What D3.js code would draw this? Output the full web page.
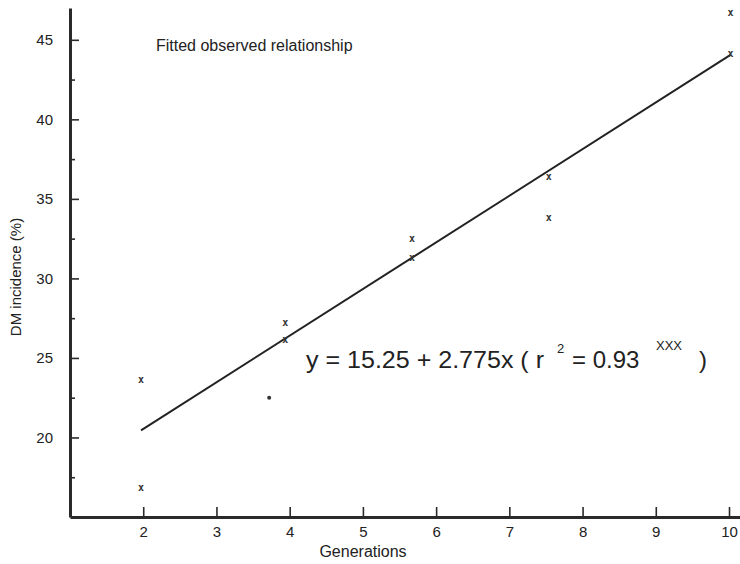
<!DOCTYPE html>
<html>
<head>
<meta charset="utf-8">
<script src="https://cdn.jsdelivr.net/npm/d3@7"></script>
<style>
    html, body { margin: 0; padding: 0; background: #fff; }
    #chart { width: 740px; height: 564px; }
    text { font-family: "Liberation Sans", Arial, sans-serif; fill: #222; }
    .axis .domain { stroke: #2a2a2a; stroke-width: 3px; }
    .axis .tick line { stroke: #2a2a2a; stroke-width: 1.6px; }
    .axis .tick text { font-size: 15px; fill: #222; font-family: "Liberation Sans", Arial, sans-serif; }
    .fit-line { fill: none; stroke: #222; stroke-width: 2px; }
    .mark { font-family: "DejaVu Sans Mono", monospace; font-size: 10px; font-weight: bold; fill: #333; }
</style>
</head>
<body>
<div id="chart"></div>
<script>

// observed points (generations vs DM incidence %)
var generations = [1.97, 1.97, 3.94, 3.94, 5.67, 5.67, 7.54, 7.54, 10.02, 10.02];
var incidence = [23.6, 16.8, 27.2, 26.1, 32.5, 31.3, 36.4, 33.8, 46.7, 44.1];

// the single dot point
var dotGenerations = [3.72];
var dotIncidence = [22.5];

// fitted line end points as drawn
var fitGenerations = [1.97, 10.02];
var fitIncidence = [20.45, 44.05];

var xTicks = [2, 3, 4, 5, 6, 7, 8, 9, 10];
var yTicks = [20, 25, 30, 35, 40, 45];
var yMinorTicks = [17.5, 22.5, 27.5, 32.5, 37.5, 42.5];

var title = 'Fitted observed relationship';
var xLabel = 'Generations';
var yLabel = 'DM incidence (%)';


class FitChart {


    constructor() {

        this._width = 740;
        this._height = 564;
        this._margin = {
            left: 70,
            top: 8,
            right: 0,
            bottom: 47
        };
    }


    renderTo(selector) {

        var svg = d3.select(selector)
            .append('svg')
            .attr('width', this._width)
            .attr('height', this._height);

        var x = d3.scaleLinear()
            .domain([1, 10.15])
            .range([this._margin.left, this._width - this._margin.right]);

        var y = d3.scaleLinear()
            .domain([15, 47])
            .range([this._height - this._margin.bottom, this._margin.top]);

        /*
         * Minor y ticks first, so major ticks sit on top.
         */
        svg.append('g')
            .attr('class', 'axis y-minor')
            .attr('transform', 'translate(' + x(1) + ',0)')
            .call(d3.axisLeft(y).tickValues(yMinorTicks).tickSize(-5).tickSizeOuter(0).tickFormat(''))
            .select('.domain').remove();

        svg.append('g')
            .attr('class', 'axis y-axis')
            .attr('transform', 'translate(' + x(1) + ',0)')
            .call(d3.axisLeft(y).tickValues(yTicks).tickSize(-9).tickSizeOuter(0).tickPadding(17));

        svg.append('g')
            .attr('class', 'axis x-axis')
            .attr('transform', 'translate(0,' + y(15) + ')')
            .call(d3.axisBottom(x).tickValues(xTicks).tickSize(-10).tickSizeOuter(0).tickPadding(9));

        /*
         * Fitted line.
         */
        var line = d3.line()
            .x(d => x(d[0]))
            .y(d => y(d[1]));

        svg.append('path')
            .attr('class', 'fit-line')
            .datum(d3.zip(fitGenerations, fitIncidence))
            .attr('d', line);

        /*
         * Observed points, drawn as small "x" characters.
         */
        svg.append('g')
            .selectAll('text')
            .data(d3.zip(generations, incidence))
            .join('text')
            .attr('class', 'mark')
            .attr('x', d => x(d[0]))
            .attr('y', d => y(d[1]))
            .attr('dy', '0.3em')
            .attr('text-anchor', 'middle')
            .text('x');

        svg.append('g')
            .selectAll('circle')
            .data(d3.zip(dotGenerations, dotIncidence))
            .join('circle')
            .attr('cx', d => x(d[0]))
            .attr('cy', d => y(d[1]))
            .attr('r', 2)
            .attr('fill', '#333');

        /*
         * Texts.
         */
        svg.append('text')
            .attr('x', 156)
            .attr('y', 51)
            .attr('font-size', 16)
            .text(title);

        svg.append('text')
            .attr('x', 363)
            .attr('y', 557)
            .attr('text-anchor', 'middle')
            .attr('font-size', 16)
            .text(xLabel);

        svg.append('text')
            .attr('transform', 'translate(21,277) rotate(-90)')
            .attr('text-anchor', 'middle')
            .attr('font-size', 15)
            .text(yLabel);

        this._equation(svg);

        return this;
    }


    _equation(svg) {

        var eq = svg.append('text')
            .attr('font-size', 24);

        eq.append('tspan')
            .attr('x', 306)
            .attr('y', 368)
            .attr('textLength', 238)
            .attr('lengthAdjust', 'spacingAndGlyphs')
            .text('y = 15.25 + 2.775x ( r');

        eq.append('tspan')
            .attr('x', 557)
            .attr('y', 353)
            .attr('font-size', 13)
            .text('2');

        eq.append('tspan')
            .attr('x', 572)
            .attr('y', 368)
            .text('= 0.93');

        eq.append('tspan')
            .attr('x', 656)
            .attr('y', 350)
            .attr('font-size', 13)
            .text('XXX');

        eq.append('tspan')
            .attr('x', 699)
            .attr('y', 368)
            .text(')');
    }
}


new FitChart().renderTo('#chart');

</script>
</body>
</html>
